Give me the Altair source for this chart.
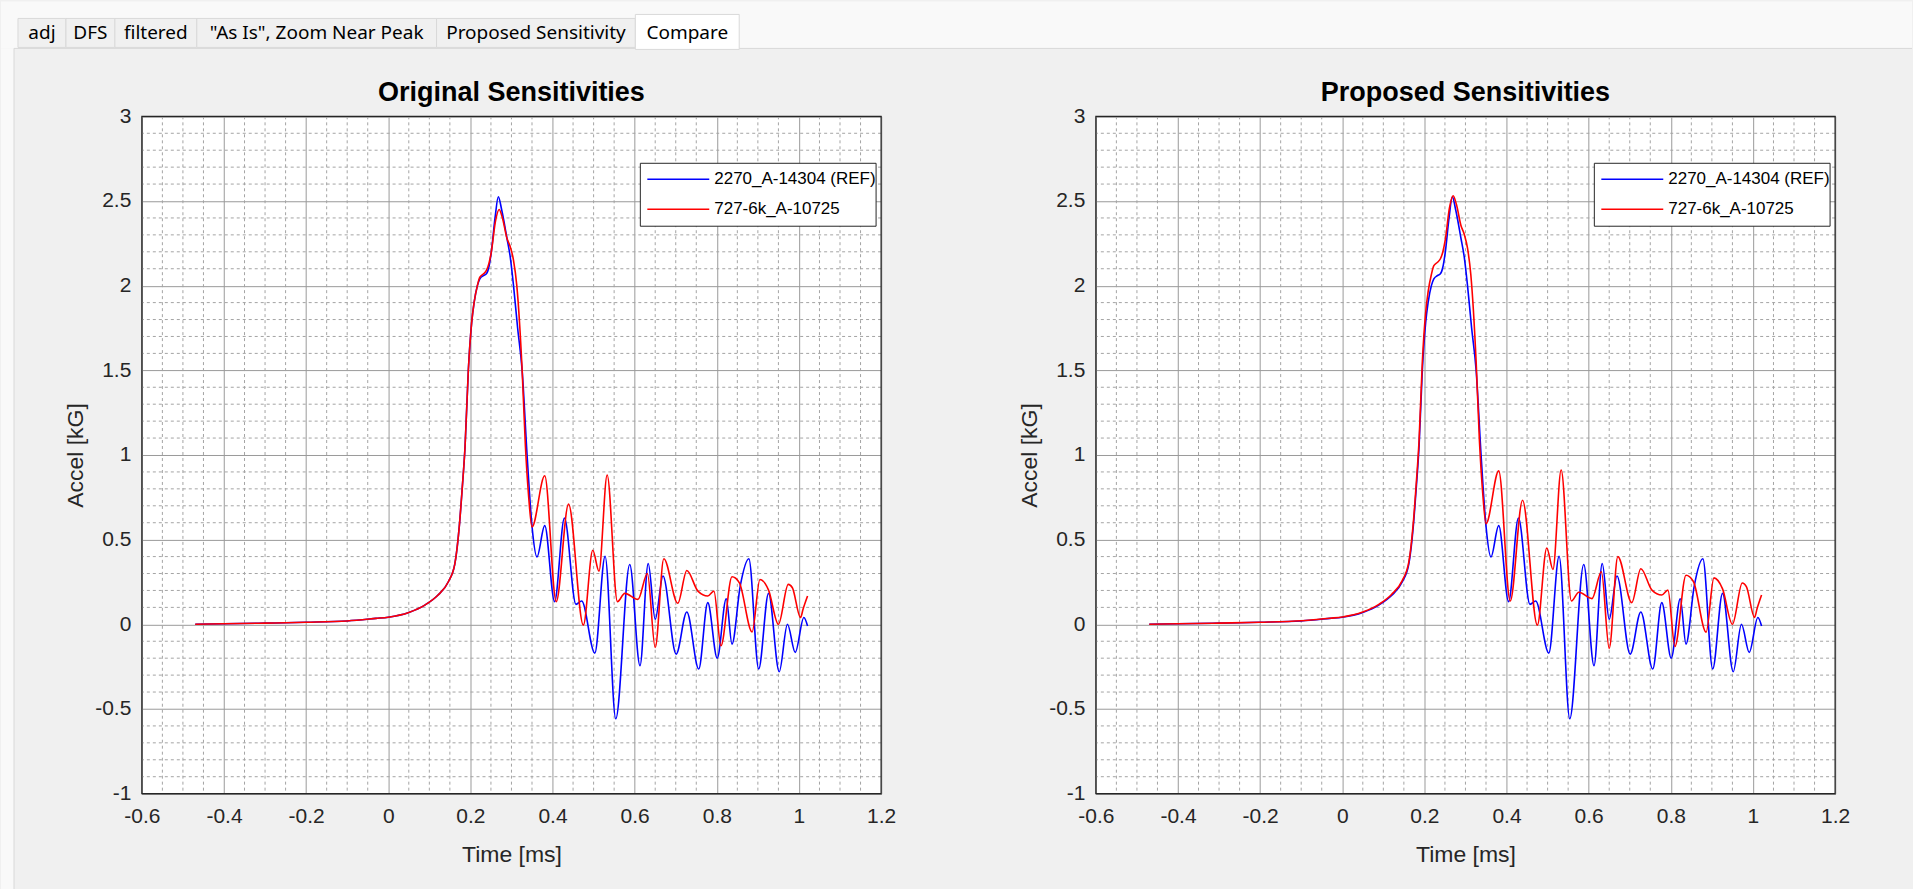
import altair as alt
import pandas as pd

# ---------------- data ----------------
TAB_NAMES = ["adj", "DFS", "filtered", "\"As Is\", Zoom Near Peak", "Proposed Sensitivity", "Compare"]
PANEL_TITLES = ["Original Sensitivities", "Proposed Sensitivities"]
SERIES_NAMES = ["2270_A-14304 (REF)", "727-6k_A-10725"]
X_TITLE = "Time [ms]"
Y_TITLE = "Accel [kG]"
X_TICKS = [-0.6, -0.4, -0.2, 0, 0.2, 0.4, 0.6, 0.8, 1, 1.2]
Y_TICKS = [-1, -0.5, 0, 0.5, 1, 1.5, 2, 2.5, 3]
X_MINOR = [-0.55, -0.5, -0.45, -0.35, -0.3, -0.25, -0.15, -0.1, -0.05, 0.05, 0.1, 0.15,
           0.25, 0.3, 0.35, 0.45, 0.5, 0.55, 0.65, 0.7, 0.75, 0.85, 0.9, 0.95, 1.05, 1.1, 1.15]
Y_MINOR = [-0.9, -0.8, -0.7, -0.6, -0.4, -0.3, -0.2, -0.1, 0.1, 0.2, 0.3, 0.4, 0.6, 0.7, 0.8, 0.9,
           1.1, 1.2, 1.3, 1.4, 1.6, 1.7, 1.8, 1.9, 2.1, 2.2, 2.3, 2.4, 2.6, 2.7, 2.8, 2.9]

# reference accelerometer (blue) - same in both panels
T_REF = [-0.47, -0.4, -0.3, -0.2, -0.1, -0.03, 0.0, 0.05, 0.09, 0.12,
         0.146, 0.162, 0.173, 0.18, 0.187, 0.195, 0.203, 0.209, 0.217, 0.223,
         0.232, 0.239, 0.245, 0.251, 0.26, 0.268, 0.276, 0.289, 0.297, 0.305,
         0.315, 0.326, 0.338, 0.35, 0.362, 0.381, 0.405, 0.429, 0.457, 0.471,
         0.503, 0.528, 0.554, 0.588, 0.613, 0.633, 0.65, 0.669, 0.701, 0.727,
         0.756, 0.778, 0.801, 0.823, 0.837, 0.857, 0.878, 0.902, 0.926, 0.952,
         0.972, 0.991, 1.012, 1.021]
V_REF = [0.0, 0.003, 0.007, 0.012, 0.02, 0.035, 0.042, 0.07, 0.115, 0.17,
         0.25, 0.355, 0.58, 0.8, 1.05, 1.5, 1.78, 1.9, 2.0, 2.04,
         2.06, 2.07, 2.11, 2.2, 2.4, 2.525, 2.45, 2.28, 2.17, 2.0,
         1.75, 1.5, 1.0, 0.58, 0.398, 0.583, 0.134, 0.628, 0.118, 0.138,
         -0.17, 0.402, -0.558, 0.353, -0.245, 0.359, 0.03, 0.285, -0.176, 0.073,
         -0.264, 0.128, -0.2, 0.151, -0.117, 0.226, 0.387, -0.264, 0.183, -0.28,
         0.0, -0.166, 0.04, -0.01]

# test accelerometer (red)
T_DUT = [-0.47, -0.4, -0.3, -0.2, -0.1, -0.03, 0.0, 0.05, 0.09, 0.12,
         0.146, 0.162, 0.173, 0.18, 0.187, 0.195, 0.203, 0.209, 0.217, 0.223,
         0.232, 0.239, 0.245, 0.251, 0.261, 0.27, 0.278, 0.289, 0.297, 0.305,
         0.313, 0.326, 0.334, 0.342, 0.35, 0.381, 0.409, 0.439, 0.475, 0.498,
         0.513, 0.533, 0.558, 0.576, 0.608, 0.631, 0.65, 0.671, 0.705, 0.727,
         0.754, 0.778, 0.793, 0.81, 0.837, 0.855, 0.886, 0.905, 0.926, 0.95,
         0.974, 0.984, 1.004, 1.01, 1.021]
V_DUT_ORIGINAL = [0.0, 0.003, 0.007, 0.012, 0.02, 0.035, 0.042, 0.07, 0.115, 0.17,
                  0.25, 0.355, 0.58, 0.8, 1.05, 1.5, 1.78, 1.9, 2.0, 2.05,
                  2.07, 2.09, 2.13, 2.2, 2.38, 2.45, 2.4, 2.28, 2.23, 2.15,
                  2.0, 1.5, 1.05, 0.75, 0.575, 0.877, 0.134, 0.71, -0.005, 0.437,
                  0.314, 0.882, 0.134, 0.183, 0.147, 0.30, -0.137, 0.387, 0.124, 0.318,
                  0.196, 0.167, 0.196, -0.127, 0.281, 0.245, -0.045, 0.265, 0.202, 0.0,
                  0.236, 0.216, 0.04, 0.089, 0.167]
V_DUT_PROPOSED = [0.0, 0.003, 0.007, 0.012, 0.021, 0.036, 0.043, 0.072, 0.119, 0.176,
                  0.258, 0.367, 0.599, 0.826, 1.085, 1.55, 1.839, 1.963, 2.066, 2.118,
                  2.138, 2.159, 2.2, 2.273, 2.459, 2.531, 2.479, 2.355, 2.304, 2.221,
                  2.066, 1.55, 1.085, 0.775, 0.594, 0.906, 0.138, 0.733, -0.005, 0.451,
                  0.324, 0.911, 0.138, 0.189, 0.152, 0.31, -0.142, 0.4, 0.128, 0.328,
                  0.202, 0.173, 0.202, -0.131, 0.29, 0.253, -0.046, 0.274, 0.209, 0.0,
                  0.244, 0.223, 0.041, 0.092, 0.173]

# ---------------- layout / style ----------------
FONT = "Liberation Sans"
TAB_FONT = "Noto Sans"
PLOT_W, PLOT_H = 740, 678
PAD_L, PAD_T = 141, 115
CANVAS_W, CANVAS_H = 1913, 889
GAP = 215
AX_COLOR = "#262626"
MAJOR_GRID = "#9a9a9a"
MINOR_GRID = "#a4a4a4"
BLUE, RED = "#0000ff", "#ff0000"
TAB_EDGES_ABS = [17, 65, 114, 196, 436, 635, 739]
TICK_FS, LABEL_FS, TITLE_FS, LEGEND_FS, TAB_FS = 21, 23, 27, 17, 19


def one(label=""):
    return pd.DataFrame({"label": [label]})


def xenc(field):
    return alt.X(f"{field}:Q",
                 scale=alt.Scale(domain=[-0.6, 1.2], nice=False, zero=False),
                 axis=alt.Axis(values=X_TICKS, title=X_TITLE, labelExpr="toString(datum.value)",
                               grid=True, gridColor=MAJOR_GRID, gridWidth=1,
                               ticks=False, domain=False, labelFont=FONT, labelFontSize=TICK_FS,
                               labelColor=AX_COLOR, labelPadding=12, labelFlush=False,
                               labelOverlap=False, titleFont=FONT, titleFontSize=LABEL_FS,
                               titleFontWeight="normal", titleColor=AX_COLOR,
                               titleY=61, titleBaseline="middle"))


def yenc(field):
    return alt.Y(f"{field}:Q",
                 scale=alt.Scale(domain=[-1, 3], nice=False, zero=False),
                 axis=alt.Axis(values=Y_TICKS, title=Y_TITLE, labelExpr="toString(datum.value)",
                               grid=True, gridColor=MAJOR_GRID, gridWidth=1,
                               ticks=False, domain=False, labelFont=FONT, labelFontSize=TICK_FS,
                               labelColor=AX_COLOR, labelPadding=11, labelFlush=False,
                               labelOverlap=False, titleFont=FONT, titleFontSize=LABEL_FS,
                               titleFontWeight="normal", titleColor=AX_COLOR,
                               titleX=-66, titleY=PLOT_H / 2, titleAngle=270,
                               titleBaseline="middle"))


def rect(x0, x1, y0, y1, fill, stroke=None, sw=1):
    kw = dict(fill=fill, strokeWidth=sw)
    if stroke:
        kw["stroke"] = stroke
    else:
        kw["strokeWidth"] = 0
    return alt.Chart(one()).mark_rect(**kw).encode(
        x=alt.value(x0), x2=alt.value(x1), y=alt.value(y0), y2=alt.value(y1))


def text(label, x, y, size, font=FONT, color="black", align="left", weight="normal"):
    return alt.Chart(one(label)).mark_text(
        font=font, fontSize=size, color=color, align=align, baseline="middle",
        fontWeight=weight).encode(x=alt.value(x), y=alt.value(y), text="label:N")


def rule(x0, x1, y, color, sw=1.6):
    return alt.Chart(one()).mark_rule(color=color, strokeWidth=sw).encode(
        x=alt.value(x0), x2=alt.value(x1), y=alt.value(y))


def panel(title, dut_values, with_chrome):
    ref = pd.DataFrame({"t": T_REF, "acc": V_REF})
    dut = pd.DataFrame({"t": T_DUT, "acc": dut_values})
    layers = []
    if with_chrome:
        # window chrome (tab strip), relative to this panel's plot origin; it never
        # overlaps a plot area or an axis.
        layers.append(rect(-PAD_L, CANVAS_W - PAD_L, -PAD_T, 47 - PAD_T, "#f9f9f9"))
        layers.append(rect(-PAD_L, 13 - PAD_L, 47 - PAD_T, CANVAS_H - PAD_T, "#f9f9f9"))
        layers.append(rule(13 - PAD_L, CANVAS_W - PAD_L, 47 - PAD_T, "#d9d9d9", 1))
        layers.append(alt.Chart(one()).mark_rule(color="#d9d9d9", strokeWidth=1).encode(
            x=alt.value(13 - PAD_L), y=alt.value(47 - PAD_T), y2=alt.value(CANVAS_H - PAD_T)))
        for i, name in enumerate(TAB_NAMES):
            x0 = TAB_EDGES_ABS[i] - PAD_L
            x1 = TAB_EDGES_ABS[i + 1] - PAD_L
            selected = i == len(TAB_NAMES) - 1
            top = (13 if selected else 17) - PAD_T
            bot = (48 if selected else 46) - PAD_T
            layers.append(rect(x0, x1, top, bot, "white" if selected else "#f0f0f0", "#d9d9d9", 1))
            layers.append(text(name, (x0 + x1) / 2, 32 - PAD_T, TAB_FS, TAB_FONT, "black", "center"))

    minor_x = alt.Chart(pd.DataFrame({"v": X_MINOR})).mark_rule(
        color=MINOR_GRID, strokeWidth=1, strokeDash=[3, 3]).encode(x=xenc("v"))
    minor_y = alt.Chart(pd.DataFrame({"v": Y_MINOR})).mark_rule(
        color=MINOR_GRID, strokeWidth=1, strokeDash=[3, 3]).encode(y=yenc("v"))
    ref_line = alt.Chart(ref).mark_line(color=BLUE, strokeWidth=1.6, interpolate="monotone").encode(
        x=xenc("t"), y=yenc("acc"))
    dut_line = alt.Chart(dut).mark_line(color=RED, strokeWidth=1.6, interpolate="monotone").encode(
        x=xenc("t"), y=yenc("acc"))
    layers += [minor_x, minor_y, ref_line, dut_line]

    # axes box on top of the grid
    layers.append(alt.Chart(one()).mark_rect(filled=False, stroke=AX_COLOR, strokeWidth=1.2).encode(
        x=alt.value(0), x2=alt.value(PLOT_W), y=alt.value(0), y2=alt.value(PLOT_H)))

    # panel title
    layers.append(text(title, PLOT_W / 2, 92 - PAD_T, TITLE_FS, FONT, "black", "center", "bold"))

    # legend box
    layers.append(rect(499, 735, 47, 110, "white", AX_COLOR, 1))
    layers.append(rule(506, 568, 63, BLUE))
    layers.append(rule(506, 568, 93, RED))
    layers.append(text(SERIES_NAMES[0], 573, 63, LEGEND_FS))
    layers.append(text(SERIES_NAMES[1], 573, 93, LEGEND_FS))

    return alt.layer(*layers).properties(width=PLOT_W, height=PLOT_H)


left = panel(PANEL_TITLES[0], V_DUT_ORIGINAL, True)
right = panel(PANEL_TITLES[1], V_DUT_PROPOSED, False)

chart = alt.HConcatChart(hconcat=[left, right], spacing=GAP, bounds="flush").properties(
    padding=0,
    autosize=alt.AutoSizeParams(type="pad"),
    background="#f0f0f0",
).configure_view(fill="white", stroke=AX_COLOR, strokeWidth=1)

chart.save("out.html", embed_options={"renderer": "svg", "actions": False})
